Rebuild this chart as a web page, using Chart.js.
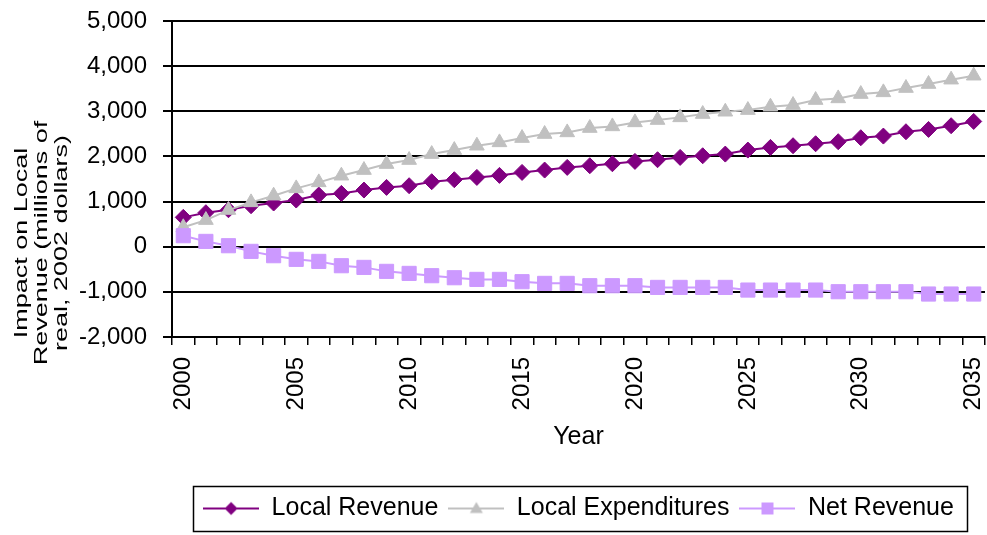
<!DOCTYPE html>
<html>
<head>
<meta charset="utf-8">
<script src="https://cdn.jsdelivr.net/npm/chart.js@4.4.1/dist/chart.umd.min.js"></script>
<style>
  html, body { margin: 0; padding: 0; background: #fff; }
</style>
</head>
<body>
<canvas id="chart" width="987" height="535"></canvas>
<script>
const years = [2000, 2001, 2002, 2003, 2004, 2005, 2006, 2007, 2008, 2009,
  2010, 2011, 2012, 2013, 2014, 2015, 2016, 2017, 2018, 2019,
  2020, 2021, 2022, 2023, 2024, 2025, 2026, 2027, 2028, 2029,
  2030, 2031, 2032, 2033, 2034, 2035];
const shownYears = [2000, 2005, 2010, 2015, 2020, 2025, 2030, 2035];

const localRevenue = [650, 753, 819, 908, 968, 1034, 1145, 1181, 1255, 1314,
  1351, 1440, 1484, 1535, 1580, 1646, 1698, 1757, 1794, 1838,
  1890, 1927, 1978, 2015, 2052, 2141, 2200, 2237, 2281, 2326,
  2414, 2451, 2547, 2598, 2680, 2775];
const localExpenditures = [430, 590, 812, 982, 1130, 1292, 1425, 1573, 1698, 1831,
  1920, 2052, 2141, 2237, 2311, 2407, 2496, 2532, 2629, 2665,
  2754, 2806, 2865, 2939, 2990, 3027, 3101, 3138, 3249, 3285,
  3382, 3419, 3515, 3604, 3700, 3788];
const netRevenue = [244, 118, 22, -103, -199, -280, -325, -421, -458, -546,
  -591, -642, -687, -724, -724, -775, -812, -812, -864, -864,
  -864, -901, -901, -901, -901, -960, -960, -960, -960, -997,
  -997, -997, -997, -1048, -1048, -1048];

const seriesNames = ["Local Revenue", "Local Expenditures", "Net Revenue"];
const seriesColors = ["#800080", "#C0C0C0", "#CC99FF"];
const yTitleLines = ["Impact on Local", "Revenue (millions of", "real, 2002 dollars)"];

const FONT = "'Liberation Sans', Arial, sans-serif";
Chart.defaults.font.family = FONT;
Chart.defaults.color = "#000";

// small line + marker pictures for the legend
function legendIcon(color, shape) {
  const c = document.createElement("canvas");
  c.width = 56;
  c.height = 20;
  const g = c.getContext("2d");
  g.strokeStyle = color;
  g.fillStyle = color;
  g.lineWidth = 2;
  g.beginPath();
  g.moveTo(0, 10);
  g.lineTo(56, 10);
  g.stroke();
  g.beginPath();
  if (shape === "diamond") {
    g.moveTo(21.5, 10); g.lineTo(28, 3.5); g.lineTo(34.5, 10); g.lineTo(28, 16.5);
  } else if (shape === "triangle") {
    g.moveTo(28, 3.5); g.lineTo(34.5, 14.5); g.lineTo(21.5, 14.5);
  } else {
    g.rect(22, 4, 12, 12);
  }
  g.closePath();
  g.fill();
  return c;
}
const icons = [
  legendIcon(seriesColors[0], "diamond"),
  legendIcon(seriesColors[1], "triangle"),
  legendIcon(seriesColors[2], "square"),
];

// black frame round the legend, like the original
const legendFrame = {
  id: "legendFrame",
  afterDraw(chart) {
    const boxes = chart.legend.legendHitBoxes;
    if (!boxes || !boxes.length) return;
    const left = Math.min(...boxes.map(b => b.left)) - 10;
    const right = Math.max(...boxes.map(b => b.left + b.width)) + 13;
    const top = boxes[0].top - 10;
    const bottom = boxes[0].top + boxes[0].height + 10;
    const ctx = chart.ctx;
    ctx.save();
    ctx.strokeStyle = "#000";
    ctx.lineWidth = 1.5;
    ctx.strokeRect(Math.round(left) + 0.5, Math.round(top) + 0.5, Math.round(right - left), Math.round(bottom - top));
    ctx.restore();
  }
};

// three-line y title, squeezed across like the original
const yTitle = {
  id: "yTitle",
  afterDraw(chart) {
    const ctx = chart.ctx;
    ctx.save();
    ctx.translate(41.7, 243);
    ctx.rotate(-Math.PI / 2);
    ctx.scale(1, 0.7);
    ctx.font = "27px " + FONT;
    ctx.fillStyle = "#000";
    ctx.textAlign = "center";
    ctx.textBaseline = "middle";
    yTitleLines.forEach((t, i) => ctx.fillText(t, 0, (i - 1) * 20 / 0.7));
    ctx.restore();
  }
};

new Chart(document.getElementById("chart"), {
  type: "line",
  data: {
    labels: years,
    datasets: [
      {
        label: seriesNames[0],
        data: localRevenue,
        borderColor: seriesColors[0],
        backgroundColor: seriesColors[0],
        pointBackgroundColor: seriesColors[0],
        borderWidth: 2,
        pointStyle: "rectRot",
        pointRadius: 8,
        pointBorderWidth: 1,
        order: 3,
      },
      {
        label: seriesNames[1],
        data: localExpenditures,
        borderColor: seriesColors[1],
        backgroundColor: seriesColors[1],
        pointBackgroundColor: seriesColors[1],
        borderWidth: 2,
        pointStyle: "triangle",
        pointRadius: 8.5,
        pointBorderWidth: 1,
        order: 2,
      },
      {
        label: seriesNames[2],
        data: netRevenue,
        borderColor: seriesColors[2],
        backgroundColor: seriesColors[2],
        pointBackgroundColor: seriesColors[2],
        borderWidth: 2,
        pointStyle: "rect",
        pointRadius: 10,
        pointBorderWidth: 1,
        order: 1,
      },
    ],
  },
  options: {
    responsive: false,
    animation: false,
    devicePixelRatio: 1,
    layout: { autoPadding: false, padding: { top: 21, right: 2, bottom: 4, left: 0 } },
    scales: {
      x: {
        type: "category",
        offset: true,
        grid: { offset: true, drawOnChartArea: false, drawTicks: true, tickLength: 8, color: "#000", lineWidth: 1.5 },
        border: { color: "#000", width: 2 },
        ticks: {
          autoSkip: false,
          minRotation: 90,
          maxRotation: 90,
          padding: 12,
          font: { size: 24 },
          color: "#000",
          callback: (v, i) => shownYears.includes(years[i]) ? String(years[i]) : "",
        },
        title: { display: true, text: "Year", font: { size: 25 }, color: "#000", padding: { top: 0, bottom: 33.5 } },
        afterFit: s => { s.height = 149; s.paddingLeft = 0; s.paddingRight = 0; },
      },
      y: {
        min: -2000,
        max: 5000,
        grid: { color: "#000", lineWidth: 2, tickLength: 9 },
        border: { color: "#000", width: 2 },
        ticks: {
          stepSize: 1000,
          padding: 16,
          font: { size: 24 },
          color: "#000",
          callback: v => v.toLocaleString("en-US"),
        },
        afterFit: s => { s.width = 172; s.paddingTop = 0; s.paddingBottom = 0; },
      },
    },
    plugins: {
      tooltip: { enabled: false },
      legend: {
        position: "bottom",
        fullSize: false,
        labels: {
          usePointStyle: true,
          pointStyleWidth: 56,
          padding: 10,
          font: { size: 25 },
          color: "#000",
          generateLabels: chart => chart.data.datasets.map((ds, i) => ({
            text: ds.label,
            pointStyle: icons[i],
            rotation: 0,
            fillStyle: seriesColors[i],
            strokeStyle: seriesColors[i],
            lineWidth: 0,
            hidden: false,
            datasetIndex: i,
          })),
        },
      },
    },
  },
  plugins: [legendFrame, yTitle],
});
</script>
</body>
</html>
